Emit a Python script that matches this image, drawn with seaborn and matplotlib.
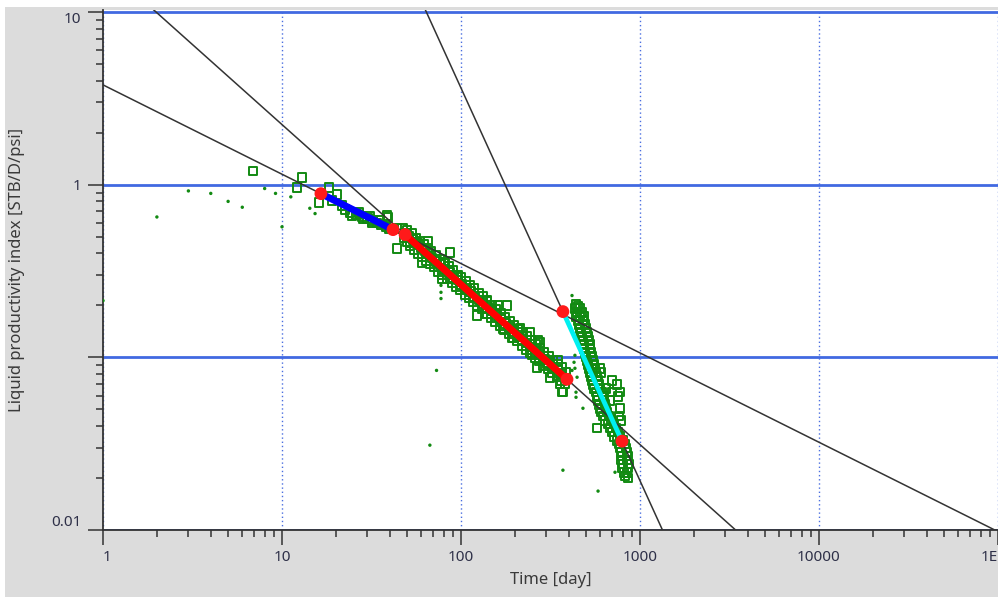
import numpy as np
import pandas as pd
import matplotlib
matplotlib.use("Agg")
import matplotlib.pyplot as plt
from matplotlib.patches import Rectangle
from matplotlib.ticker import FixedLocator, LogLocator, NullFormatter
import seaborn as sns

# ---------------------------------------------------------------- data
# Early production period (squares), time [day] / PI [STB/D/psi]
early_t = [6.9, 12.9, 12.1, 18.3, 20.3, 16.1, 19.0, 21.6, 22.5, 24.6, 28.4, 31.8,
           35.3, 39.1, 43.9, 43.9, 38.6, 24.0, 26.0, 28.0, 30.0, 32.0, 34.0,
           36.0, 38.0, 40.0, 27.0, 31.0, 35.0]
early_q = [1.20, 1.10, 0.96, 0.96, 0.875, 0.787, 0.808, 0.756, 0.717, 0.662, 0.636,
           0.603, 0.619, 0.645, 0.557, 0.427, 0.662, 0.69, 0.67, 0.655, 0.635, 0.615,
           0.60, 0.585, 0.57, 0.555, 0.69, 0.66, 0.625]

# Middle period (squares)
mid_t = [47, 49, 48, 50, 51, 50, 53, 54, 52, 56, 57, 55, 59, 60, 58, 62, 63, 61,
         65, 66, 64, 68, 69, 67, 72, 73, 71, 76, 77, 75, 80, 81, 79, 85, 86, 84,
         90, 91, 89, 95, 96, 94, 100, 101, 99, 106, 107, 105, 112, 113, 111,
         118, 119, 117, 125, 126, 124, 132, 133, 131, 140, 141, 139, 148, 149, 147,
         157, 158, 156, 166, 167, 165, 176, 177, 175, 186, 187, 185, 197, 198, 196,
         208, 209, 207, 220, 221, 219, 233, 234, 232, 246, 247, 245, 260, 261, 259,
         275, 276, 274, 291, 292, 290, 308, 309, 307, 326, 327, 325, 345, 346, 344,
         365, 366, 364, 385, 383, 380,
         51.9, 55.3, 65.4, 60.5, 86.9, 81.4, 78.3, 96.2, 123, 140, 140, 161, 181,
         172, 193, 214, 243, 269, 249, 266, 302, 314, 348, 357, 371, 276, 366]
mid_q = [0.56, 0.52, 0.49, 0.545, 0.50, 0.47, 0.52, 0.48, 0.445, 0.49, 0.455, 0.42,
         0.47, 0.43, 0.40, 0.45, 0.415, 0.385, 0.43, 0.40, 0.365, 0.41, 0.375, 0.35,
         0.39, 0.36, 0.335, 0.37, 0.345, 0.315, 0.355, 0.325, 0.30, 0.335, 0.31, 0.285,
         0.32, 0.29, 0.27, 0.30, 0.28, 0.255, 0.29, 0.265, 0.245, 0.275, 0.25, 0.23,
         0.26, 0.24, 0.22, 0.25, 0.225, 0.21, 0.235, 0.215, 0.20, 0.225, 0.205, 0.19,
         0.21, 0.195, 0.18, 0.20, 0.185, 0.17, 0.19, 0.175, 0.16, 0.18, 0.165, 0.152,
         0.17, 0.157, 0.145, 0.162, 0.149, 0.137, 0.154, 0.141, 0.13, 0.146, 0.134, 0.124,
         0.139, 0.127, 0.117, 0.132, 0.121, 0.111, 0.125, 0.115, 0.106, 0.119, 0.109, 0.100,
         0.113, 0.1035, 0.095, 0.107, 0.098, 0.090, 0.102, 0.093, 0.086, 0.096, 0.088, 0.081,
         0.091, 0.084, 0.077, 0.087, 0.080, 0.073, 0.082, 0.076, 0.070,
         0.462, 0.462, 0.468, 0.354, 0.405, 0.349, 0.286, 0.298, 0.175, 0.214, 0.180,
         0.200, 0.200, 0.147, 0.130, 0.147, 0.140, 0.125, 0.103, 0.0876, 0.0923, 0.0767,
         0.0961, 0.0708, 0.0628, 0.122, 0.0628]

# Late period (squares)
late_t = [439, 450, 433, 462, 445, 474, 439, 462, 487, 450, 480, 456, 493, 462, 499,
          468, 505, 474, 512, 480, 519, 487, 526, 487, 526, 493, 532, 499, 539, 505, 546,
          512, 553, 519, 560, 598, 526, 568, 606, 532, 575, 539, 583, 698, 546, 590, 745,
          553, 598, 646, 568, 614, 698, 773, 575, 622, 754, 583, 630, 680, 590, 638,
          598, 646, 773, 606, 655, 622, 672, 763, 638, 689, 783, 663, 716, 680, 735, 575,
          698, 754, 716, 773, 745, 803, 763, 824, 773, 835, 783, 846, 793, 857, 783, 846,
          803, 868, 793, 857, 814, 846, 824, 857]
late_q = [0.2025, 0.197, 0.192, 0.192, 0.182, 0.182, 0.1726, 0.1726, 0.1726, 0.1636,
          0.1636, 0.155, 0.155, 0.147, 0.147, 0.1395, 0.1395, 0.1322, 0.1322, 0.1254,
          0.1254, 0.1189, 0.1189, 0.1127, 0.1127, 0.1069, 0.1069, 0.1013, 0.1013, 0.0961,
          0.0961, 0.0911, 0.0911, 0.0864, 0.0864, 0.0864, 0.0819, 0.0819, 0.0819, 0.0777,
          0.0777, 0.0736, 0.0736, 0.0736, 0.0698, 0.0698, 0.0698, 0.0662, 0.0662, 0.0662,
          0.0628, 0.0628, 0.0628, 0.0628, 0.0595, 0.0595, 0.0595, 0.0564, 0.0564, 0.0564,
          0.0535, 0.0535, 0.0507, 0.0507, 0.0507, 0.0481, 0.0481, 0.0456, 0.0456, 0.0456,
          0.0432, 0.0432, 0.0432, 0.041, 0.041, 0.0389, 0.0389, 0.0389, 0.0369, 0.0369,
          0.0349, 0.0349, 0.0331, 0.0331, 0.0314, 0.0314, 0.0298, 0.0298, 0.0282, 0.0282,
          0.0268, 0.0268, 0.0254, 0.0254, 0.0241, 0.0241, 0.0228, 0.0228, 0.0216, 0.0216,
          0.0205, 0.0200]

# Excluded measurements (small dots)
dot_t = [1.0, 2.0, 3.0, 4.0, 5.0, 6.0, 8.0, 9.2, 10.0, 11.2, 14.3, 15.3,
         77.3, 77.3, 77.3, 73.0, 67.0, 417, 417, 433, 445, 439, 480, 428, 433,
         439, 371, 725, 583]
dot_q = [0.213, 0.65, 0.92, 0.89, 0.80, 0.74, 0.95, 0.89, 0.57, 0.85, 0.73, 0.68,
         0.261, 0.238, 0.219, 0.084, 0.031, 0.228, 0.084, 0.0864, 0.0767, 0.0628,
         0.0507, 0.0936, 0.1027, 0.0587, 0.0222, 0.0216, 0.0168]

# Straight-line fits: start / end points (time, PI)
fit_t0 = [16.5, 48.7, 371]
fit_q0 = [0.887, 0.514, 0.184]
fit_t1 = [41.7, 391, 793]
fit_q1 = [0.549, 0.0746, 0.0327]
fit_colors = ["#0000ff", "#ff0000", "#00f0f0"]
fit_widths = [5.0, 5.0, 3.4]

x_ticks = [1, 10, 100, 1000, 10000, 100000]
x_tick_labels = ["1", "10", "100", "1000", "10000", "1E+5"]
y_ticks = [0.01, 0.1, 1, 10]
y_tick_labels = ["0.01", "", "1", "10"]

# ---------------------------------------------------------------- style
sns.set_style("white")
plt.rcParams["font.family"] = ["Noto Sans", "DejaVu Sans"]

W, H = 998, 599
fig = plt.figure(figsize=(W / 100, H / 100), dpi=100, facecolor="white")
fig.patches.append(Rectangle((5 / W, 2 / H), (W - 5) / W, (H - 9) / H,
                             transform=fig.transFigure, facecolor="#dcdcdc",
                             edgecolor="none", zorder=-10))
ax = fig.add_axes([103 / W, 69 / H, (W - 103) / W, 520 / H])
ax.set_zorder(5)
ax.set_facecolor("white")
ax.set_xscale("log")
ax.set_yscale("log")
ax.set_xlim(1, 1e5)
ax.set_ylim(0.01, 10.27)

green = "#128a12"
sq = pd.DataFrame({"t": early_t + mid_t + late_t, "q": early_q + mid_q + late_q})
dots = pd.DataFrame({"t": dot_t, "q": dot_q})

sns.scatterplot(data=sq, x="t", y="q", marker="s", s=38, facecolor="none",
                edgecolor=green, linewidth=1.4, ax=ax, zorder=3, legend=False)
sns.scatterplot(data=dots, x="t", y="q", marker="o", s=6, color=green,
                edgecolor="none", ax=ax, zorder=3, legend=False)

# fitted segments and their full-range extensions
xr = np.array([1.0, 1e5])
for t0, q0, t1, q1, c, lw in zip(fit_t0, fit_q0, fit_t1, fit_q1, fit_colors, fit_widths):
    slope = np.log10(q1 / q0) / np.log10(t1 / t0)
    ax.plot(xr, q0 * (xr / t0) ** slope, color="#333333", lw=1.1, zorder=3.5)
    seg = pd.DataFrame({"t": [t0, t1], "q": [q0, q1]})
    sns.lineplot(data=seg, x="t", y="q", color=c, lw=lw, ax=ax, zorder=4,
                 solid_capstyle="butt")

pts = pd.DataFrame({"t": fit_t0 + fit_t1, "q": fit_q0 + fit_q1})
sns.scatterplot(data=pts, x="t", y="q", s=85, color="#ff1a1a", edgecolor="none",
                ax=ax, zorder=6, legend=False)

# ---------------------------------------------------------------- axes
ax.xaxis.set_major_locator(FixedLocator(x_ticks))
ax.set_xticklabels(x_tick_labels)
ax.xaxis.set_minor_locator(LogLocator(base=10, subs=np.arange(2, 10)))
ax.xaxis.set_minor_formatter(NullFormatter())
ax.yaxis.set_major_locator(FixedLocator(y_ticks))
ax.set_yticklabels(y_tick_labels)
ax.yaxis.set_minor_locator(LogLocator(base=10, subs=np.arange(2, 10)))
ax.yaxis.set_minor_formatter(NullFormatter())

ax.tick_params(which="both", bottom=True, left=True, top=False, right=False)
ax.tick_params(which="major", direction="out", length=10.5, width=1.1,
               color="#333333", labelsize=11, labelcolor="#2e3048")
ax.tick_params(which="minor", direction="out", length=5, width=1.1, color="#333333")
ax.tick_params(axis="x", which="major", pad=4)
ax.tick_params(axis="y", which="major", pad=5)
ax.xaxis.get_majorticklabels()[0].set_horizontalalignment("left")
ylabels = ax.yaxis.get_majorticklabels()
ylabels[0].set_verticalalignment("bottom")
ylabels[3].set_verticalalignment("top")

ax.xaxis.grid(True, which="major", ls=(0, (1, 2)), color="#4a6ee0", lw=1.0)
ax.yaxis.grid(True, which="major", ls="-", color="#4169e1", lw=2.0)
ax.set_axisbelow(True)

for side in ["top", "right"]:
    ax.spines[side].set_visible(False)
for side in ["left", "bottom"]:
    ax.spines[side].set_color("#333333")
    ax.spines[side].set_linewidth(1.3)

ax.set_xlabel("Time [day]", fontsize=12, color="#3a3a3a")
ax.set_ylabel("Liquid productivity index [STB/D/psi]", fontsize=12, color="#3a3a3a")
ax.xaxis.set_label_coords(0.5, -0.08)
ax.yaxis.set_label_coords(-0.087, 0.5)

fig.savefig("out.png", dpi=100, facecolor="white")
